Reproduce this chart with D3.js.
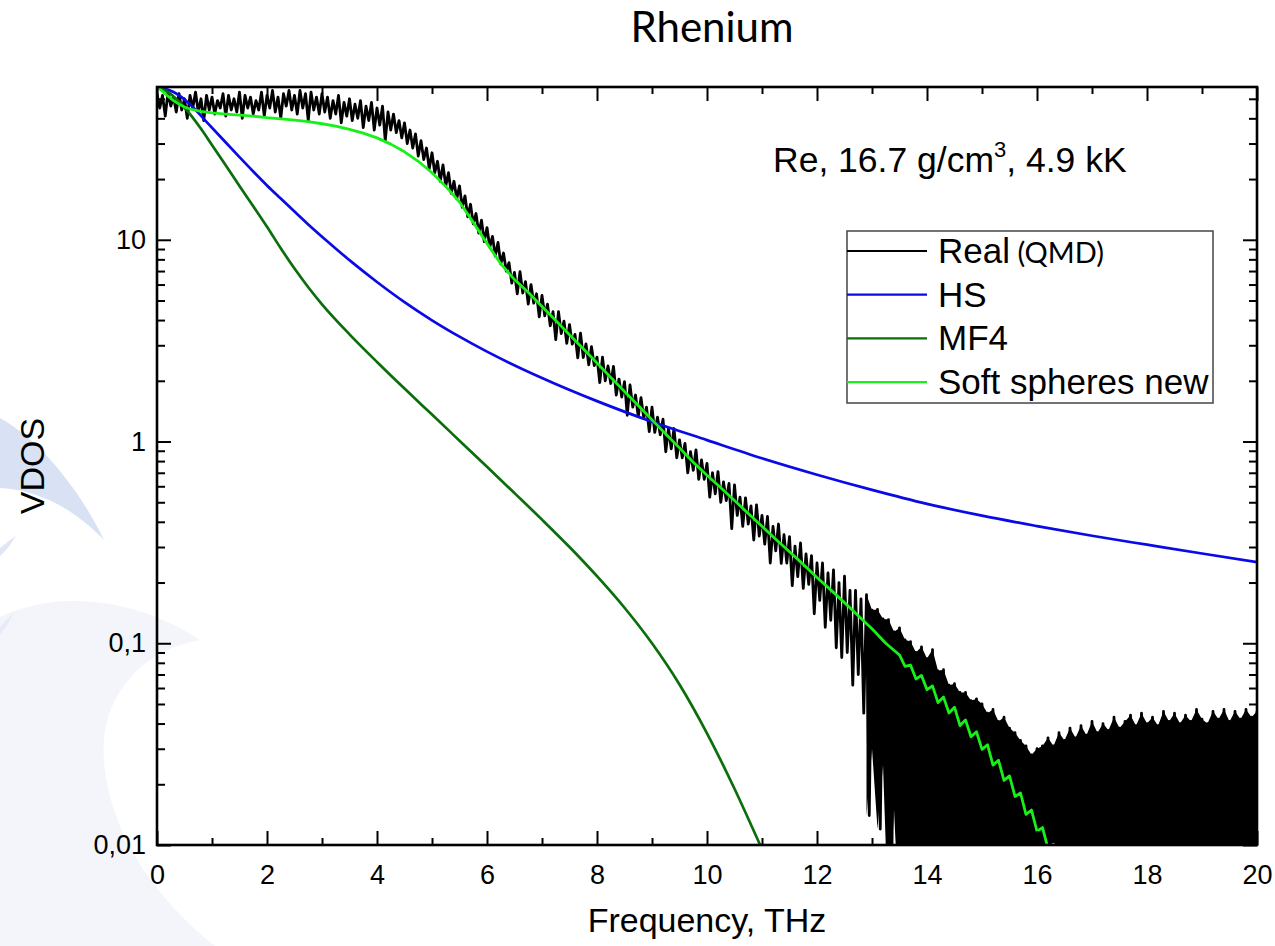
<!DOCTYPE html>
<html>
<head>
<meta charset="utf-8">
<script src="https://cdn.jsdelivr.net/npm/d3@7"></script>
<style>
  body { margin: 0; background: #fff; }
  svg { display: block; }
  .tick text { font-family: "Liberation Sans", Arial, sans-serif; font-size: 27px; fill: #000; }
  .tick line { stroke: #000; stroke-width: 2; }
</style>
</head>
<body>
<div id="chart"></div>
<script>
// ---- data ----
// Real (QMD): noisy signal, upper / lower extent in each 0.1 THz bin, f = 0 .. 20
var realHi = [
  53,52,54,51,53,50,52,54,50,52,
  51,49,53,52,50,54,52,51,49,54,
  52,55,51,53,55,52,55,53,54,51,
  53,51,49,52,48,50,47,49,46,48,
  45,46,43,42,39,38,35,33.5,31,28.5,
  27,24.5,23.5,21.5,19.5,18.5,16.5,15,13.5,12.5,
  11.5,10.4,9.7,8.6,7.7,6.9,6.95,6.2,6.0,5.4,
  5.3,4.8,4.4,4.4,3.95,3.8,3.4,3.45,3.05,2.95,
  2.62,2.62,2.37,2.36,2.04,1.98,1.91,1.7,1.65,1.48,
  1.48,1.32,1.29,1.16,1.16,1.02,0.98,0.89,0.91,0.81,
  0.78,0.70,0.71,0.63,0.62,0.61,0.53,0.525,0.48,0.485,
  0.43,0.425,0.38,0.39,0.345,0.338,0.303,0.314,0.277,0.272,
  0.25,0.25,0.223,0.231,0.2,0.215,0.183,0.183,0.166,0.174,
  0.146,0.147,0.132,0.131,0.114,0.119,0.104,0.102,0.09,0.096,
  0.084,0.093,0.073,0.074,0.062,0.063,0.057,0.057,0.052,0.053,
  0.05,0.045,0.047,0.041,0.043,0.038,0.036,0.033,0.031,0.028,
  0.03,0.031,0.034,0.031,0.036,0.033,0.038,0.034,0.039,0.035,
  0.041,0.036,0.04,0.037,0.043,0.038,0.041,0.044,0.039,0.045,
  0.04,0.043,0.039,0.046,0.041,0.045,0.04,0.044,0.041,0.047,
  0.042,0.04,0.046,0.042,0.047,0.041,0.046,0.042,0.047,0.043,
  0.046
];
var realLo = [
  45,41,46,43,44,40,45,43,39,44,
  42,45,41,44,43,40,45,42,44,41,
  45,43,40,46,44,42,45,39,44,42,
  43,40,42,38,41,39,40,36,39,35,
  37,31,35,34,32,30,28.5,26,25,22.5,
  21.5,19.5,18.5,17,16,14.5,13,12,10.8,9.8,
  9.2,8.3,7.6,7.0,6.1,5.4,5.45,4.8,4.85,4.15,
  4.2,3.75,3.2,3.43,3.07,3.04,2.6,2.61,2.4,2.38,
  1.96,2.0,1.94,1.7,1.66,1.35,1.48,1.33,1.31,1.12,
  1.11,1.08,0.89,0.92,0.83,0.83,0.70,0.72,0.65,0.65,
  0.53,0.55,0.50,0.51,0.37,0.43,0.38,0.39,0.325,0.34,
  0.31,0.25,0.287,0.249,0.25,0.193,0.214,0.187,0.196,0.14,
  0.163,0.12,0.13,0.095,0.085,0.09,0.062,0.07,0.045,0.014,
  0.03,0.012,0.025,0.004,0.015,0.004,0.004,0.004,0.004,0.004,
  0.004,0.004,0.004,0.004,0.004,0.004,0.004,0.004,0.004,0.004,
  0.004,0.004,0.004,0.004,0.004,0.004,0.004,0.004,0.004,0.004,
  0.004,0.004,0.004,0.004,0.004,0.004,0.004,0.004,0.004,0.004,
  0.004,0.004,0.004,0.004,0.004,0.004,0.004,0.004,0.004,0.004,
  0.004,0.004,0.004,0.004,0.004,0.004,0.004,0.004,0.004,0.004,
  0.004,0.004,0.004,0.004,0.004,0.004,0.004,0.004,0.004,0.004,
  0.004
];
var realFreq = d3.range(realHi.length).map(function(i) { return i / 10; });

// HS model [frequency, VDOS]
var hsData = [
  [0,57.2],[0.3,54],[0.6,47],[0.9,38.4],[1.2,31.4],[1.5,25.7],[1.75,21.8],[2,18.6],
  [2.24,16.1],[2.5,13.8],[2.73,12.06],[3.09,9.87],[3.56,7.68],[4,6.18],[4.5,4.91],[5,3.99],
  [5.5,3.31],[6,2.79],[7,2.065],[8,1.586],[9,1.254],[10,1.016],[11,0.826],[12,0.685],
  [13,0.576],[14,0.491],[15,0.429],[16,0.381],[17,0.341],[18,0.308],[19,0.2785],[20,0.2527]
];
// MF4 model
var mf4Data = [
  [0,57.2],[0.2,54],[0.4,48.5],[0.6,42],[0.8,35.5],[1,29.5],[1.2,24.5],[1.5,18.5],
  [2,11.6],[2.25,9.08],[2.5,7.2],[2.75,5.82],[3,4.79],[3.5,3.40],[4,2.48],[4.5,1.83],
  [5,1.36],[5.5,1.01],[6,0.75],[6.5,0.555],[7,0.41],[7.5,0.30],[8,0.215],[8.5,0.15],
  [9,0.1],[9.5,0.0625],[10,0.0358],[10.5,0.019],[11,0.00953],[11.2,0.0072]
];
// Soft spheres new
var softData = [
  [0,57.2],[0.1,54.5],[0.2,51.5],[0.3,49],[0.4,47],[0.5,45.5],[0.6,44.5],[0.8,43.3],
  [1,42.6],[1.25,42],[1.5,41.5],[1.75,41],[2,40.3],[2.25,39.8],[2.5,39.2],[2.75,38.5],
  [3,37.6],[3.25,36.6],[3.5,35.3],[3.75,33.8],[4,32],[4.25,29.8],[4.5,27.3],[4.75,24.5],
  [5,21.5],[5.25,18.4],[5.5,15.4],[5.75,12.2],[6,9.6],[6.25,7.6],[6.5,6.35],[6.75,5.5],
  [7,4.67],[7.25,3.98],[7.5,3.38],[7.75,2.88],[8,2.45],[8.25,2.08],[8.5,1.77],[8.75,1.51],
  [9,1.28],[9.25,1.09],[9.5,0.93],[9.75,0.79],[10,0.68],[10.25,0.59],[10.5,0.51],[10.75,0.44],
  [11,0.38],[11.25,0.328],[11.5,0.284],[11.75,0.246],[12,0.212],[12.25,0.184],[12.5,0.159],
  [12.75,0.137],[13,0.118],[13.25,0.1],
  [13.5,0.0875],[13.6,0.0768],[13.7,0.078],[13.8,0.0665],[13.9,0.0693],[14,0.0589],
  [14.1,0.0615],[14.2,0.0508],[14.3,0.0541],[14.4,0.0451],[14.5,0.0482],[14.6,0.0391],
  [14.7,0.0417],[14.8,0.0344],[14.9,0.0364],[15,0.0298],[15.1,0.0314],[15.2,0.0249],
  [15.3,0.0263],[15.4,0.0209],[15.5,0.022],[15.6,0.0174],[15.7,0.0181],[15.8,0.0142],
  [15.9,0.0149],[16,0.0117],[16.1,0.0122],[16.2,0.0096],[16.3,0.0101],[16.4,0.0079]
];

var xMajor = [0,2,4,6,8,10,12,14,16,18,20];
var xMinor = [1,3,5,7,9,11,13,15,17,19];
var yMajor = [0.01,0.1,1,10];
var yMinor = [0.02,0.03,0.04,0.05,0.06,0.07,0.08,0.09,0.2,0.3,0.4,0.5,0.6,0.7,0.8,0.9,
              2,3,4,5,6,7,8,9,20,30,40,50];
var yLabels = {0.01: "0,01", 0.1: "0,1", 1: "1", 10: "10"};

var legendItems = [
  {name: "Real", extra: "(QMD)", color: "#000000"},
  {name: "HS", extra: "", color: "#0a0ae6"},
  {name: "MF4", extra: "", color: "#0a6e0a"},
  {name: "Soft spheres new", extra: "", color: "#19f019"}
];

// ---- layout ----
var width = 1275, height = 946;
var pLeft = 157, pRight = 1257, pTop = 87, pBottom = 845;

var svg = d3.select("#chart").append("svg").attr("width", width).attr("height", height);

// faint watermark in the background
var wm = svg.append("g");
wm.append("path")
  .attr("d", "M0,617 C60,588 140,600 200,640 C140,650 95,700 105,770 C115,850 170,910 215,946 L0,946 Z")
  .attr("fill", "#f3f5fa");
wm.append("path")
  .attr("d", "M0,418 C40,440 80,490 104,540 C70,505 35,490 0,488 Z")
  .attr("fill", "#d9e2f4");
wm.append("path")
  .attr("d", "M0,548 C5,544 10,540 16,536 C10,545 5,552 0,556 Z")
  .attr("fill", "#dfe6f5");
wm.append("path")
  .attr("d", "M0,627 C5,622 9,617 14,612 C9,622 5,630 0,634 Z")
  .attr("fill", "#e6ebf7");

var x = d3.scaleLinear().domain([0, 20]).range([pLeft, pRight]);
var y = d3.scaleLog().domain([0.01, 57.2]).range([pBottom, pTop]);

svg.append("clipPath").attr("id", "plotclip")
  .append("rect").attr("x", pLeft).attr("y", pTop).attr("width", pRight - pLeft).attr("height", pBottom - pTop);

var plot = svg.append("g").attr("clip-path", "url(#plotclip)");

// Real (QMD): fill where the noise reaches deep, then the jagged trace itself
var realRows = realFreq.map(function(f, i) { return {f: f, hi: realHi[i], lo: realLo[i]}; });

plot.append("path")
  .datum(realRows)
  .attr("fill", "#000")
  .attr("d", d3.area()
    .defined(function(d) { return d.lo < 0.25 * d.hi; })
    .x(function(d) { return x(d.f); })
    .y0(function(d) { return y(d.lo); })
    .y1(function(d) { return y(d.hi); }));

var zig = [];
realRows.forEach(function(d) {
  zig.push([d.f, d.hi]);
  if (d.f < 20) zig.push([d.f + 0.05, d.lo]);
});
plot.append("path")
  .datum(zig)
  .attr("fill", "none")
  .attr("stroke", "#000")
  .attr("stroke-width", 2.8)
  .attr("stroke-linejoin", "round")
  .attr("d", d3.line().x(function(d) { return x(d[0]); }).y(function(d) { return y(d[1]); }));

var smooth = d3.line()
  .x(function(d) { return x(d[0]); })
  .y(function(d) { return y(d[1]); })
  .curve(d3.curveMonotoneX);

plot.append("path").datum(hsData)
  .attr("fill", "none").attr("stroke", legendItems[1].color).attr("stroke-width", 2.7)
  .attr("d", smooth);
plot.append("path").datum(mf4Data)
  .attr("fill", "none").attr("stroke", legendItems[2].color).attr("stroke-width", 2.7)
  .attr("d", smooth);
plot.append("path").datum(softData)
  .attr("fill", "none").attr("stroke", legendItems[3].color).attr("stroke-width", 2.8)
  .attr("stroke-linejoin", "round")
  .attr("d", d3.line().x(function(d) { return x(d[0]); }).y(function(d) { return y(d[1]); }));

// ---- axes, ticks inside on all four sides ----
var fmtY = function(d) { return yLabels[d] || ""; };

svg.append("g").attr("transform", "translate(0," + pBottom + ")")
  .call(d3.axisBottom(x).tickValues(xMajor).tickSize(-14).tickPadding(20).tickFormat(d3.format("d")));
svg.append("g").attr("transform", "translate(0," + pBottom + ")")
  .call(d3.axisBottom(x).tickValues(xMinor).tickSize(-7).tickFormat(""));
svg.append("g").attr("transform", "translate(0," + pTop + ")")
  .call(d3.axisTop(x).tickValues(xMajor).tickSize(-14).tickFormat(""));
svg.append("g").attr("transform", "translate(0," + pTop + ")")
  .call(d3.axisTop(x).tickValues(xMinor).tickSize(-7).tickFormat(""));

svg.append("g").attr("transform", "translate(" + pLeft + ",0)")
  .call(d3.axisLeft(y).tickValues(yMajor).tickSize(-14).tickPadding(11).tickFormat(fmtY));
svg.append("g").attr("transform", "translate(" + pLeft + ",0)")
  .call(d3.axisLeft(y).tickValues(yMinor).tickSize(-8).tickFormat(""));
svg.append("g").attr("transform", "translate(" + pRight + ",0)")
  .call(d3.axisRight(y).tickValues(yMajor).tickSize(-14).tickFormat(""));
svg.append("g").attr("transform", "translate(" + pRight + ",0)")
  .call(d3.axisRight(y).tickValues(yMinor).tickSize(-8).tickFormat(""));

svg.selectAll(".domain").remove();

svg.append("rect")
  .attr("x", pLeft).attr("y", pTop).attr("width", pRight - pLeft).attr("height", pBottom - pTop)
  .attr("fill", "none").attr("stroke", "#000").attr("stroke-width", 2.6);

// ---- texts ----
var sans = "'Liberation Sans', Arial, sans-serif";

svg.append("text")
  .attr("x", 712).attr("y", 42).attr("text-anchor", "middle")
  .style("font-family", "Lato, 'Open Sans', sans-serif").style("font-size", "42px")
  .text("Rhenium");

svg.append("text")
  .attr("x", (pLeft + pRight) / 2).attr("y", 932).attr("text-anchor", "middle")
  .style("font-family", sans).style("font-size", "34px")
  .text("Frequency, THz");

svg.append("text")
  .attr("transform", "translate(44,466) rotate(-90)").attr("text-anchor", "middle")
  .style("font-family", sans).style("font-size", "34px")
  .text("VDOS");

var note = svg.append("text")
  .attr("x", 773).attr("y", 172)
  .style("font-family", sans).style("font-size", "35.5px");
note.append("tspan").text("Re, 16.7 g/cm");
note.append("tspan").attr("dy", -15).style("font-size", "22px").text("3");
note.append("tspan").attr("dy", 15).text(", 4.9 kK");

// ---- legend ----
var legend = svg.append("g");
legend.append("rect")
  .attr("x", 847).attr("y", 231).attr("width", 366).attr("height", 172)
  .attr("fill", "#fff").attr("stroke", "#444").attr("stroke-width", 1.5);

var rows = legend.selectAll("g.item").data(legendItems).enter().append("g")
  .attr("class", "item")
  .attr("transform", function(d, i) { return "translate(847," + (251 + i * 43.7) + ")"; });
rows.append("line")
  .attr("x1", 0).attr("x2", 80).attr("y1", 0).attr("y2", 0)
  .attr("stroke", function(d) { return d.color; }).attr("stroke-width", 2.2);
var lt = rows.append("text")
  .attr("x", 91).attr("y", 12)
  .style("font-family", sans).style("font-size", "35px");
lt.append("tspan").text(function(d) { return d.name; });
lt.append("tspan")
  .style("font-family", "Lato, 'Open Sans', sans-serif").style("font-size", "29px")
  .text(function(d) { return d.extra ? " " + d.extra : ""; });
</script>
</body>
</html>
